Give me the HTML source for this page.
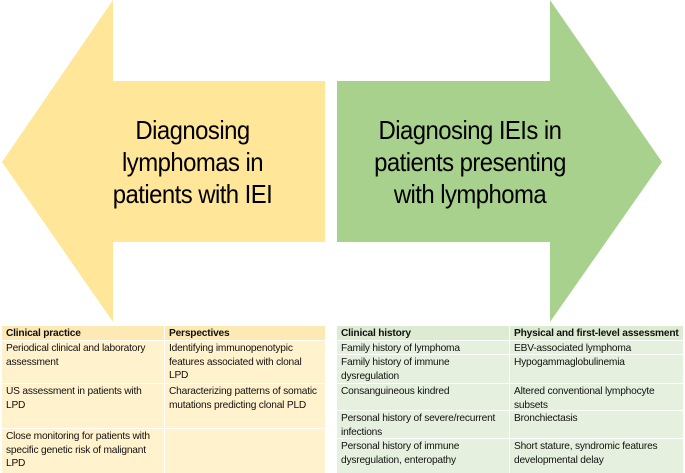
<!DOCTYPE html>
<html><head><meta charset="utf-8"><style>
body{margin:0;width:685px;height:473px;background:#fff;position:relative;overflow:hidden;font-family:"Liberation Sans",sans-serif}
.c{position:absolute;box-sizing:border-box;padding:1px 4px;font-size:10.2px;line-height:13.5px;color:#111;letter-spacing:-0.2px}
.hy{background:#fde9b3;font-weight:bold}
.y{background:#fff2cc}
.hg{background:#dcebd1;font-weight:bold}
.g{background:#e6f0de}
.t{position:absolute;font-size:26px;line-height:32px;text-align:center;color:#000;letter-spacing:-0.6px;transform:scaleX(0.92)}
</style></head><body>
<svg width="685" height="473" style="position:absolute;left:0;top:0">
<polygon points="2,162 113,0 113,81 325,81 325,242 113,242 113,322" fill="#ffe699"/>
<polygon points="337,81 550,81 550,0 662,162 550,322 550,242 337,242" fill="#a9d18e"/>
</svg>
<div class="t" style="left:70px;width:245px;top:114px">Diagnosing<br>lymphomas in<br>patients with IEI</div>
<div class="t" style="left:340px;width:260px;top:114px">Diagnosing IEIs in<br>patients presenting<br>with lymphoma</div>

<div class="c hy" style="left:2px;top:326px;width:162px;height:14px">Clinical practice</div>
<div class="c hy" style="left:165px;top:326px;width:160px;height:14px">Perspectives</div>
<div class="c y" style="left:2px;top:341px;width:162px;height:42px">Periodical clinical and laboratory assessment</div>
<div class="c y" style="left:165px;top:341px;width:160px;height:42px">Identifying immunopenotypic features associated with clonal LPD</div>
<div class="c y" style="left:2px;top:384px;width:162px;height:44px">US assessment in patients with LPD</div>
<div class="c y" style="left:165px;top:384px;width:160px;height:44px">Characterizing patterns of somatic mutations predicting clonal PLD</div>
<div class="c y" style="left:2px;top:429px;width:162px;height:44px">Close monitoring for patients with specific genetic risk of malignant LPD</div>
<div class="c y" style="left:165px;top:429px;width:160px;height:44px"></div>

<div class="c hg" style="left:337px;top:326px;width:172px;height:14px">Clinical history</div>
<div class="c hg" style="left:510px;top:326px;width:173px;height:14px">Physical and first-level assessment</div>
<div class="c g" style="left:337px;top:341px;width:172px;height:13px">Family history of lymphoma</div>
<div class="c g" style="left:510px;top:341px;width:173px;height:13px">EBV-associated lymphoma</div>
<div class="c g" style="left:337px;top:355px;width:172px;height:28px">Family history of immune dysregulation</div>
<div class="c g" style="left:510px;top:355px;width:173px;height:28px">Hypogammaglobulinemia</div>
<div class="c g" style="left:337px;top:384px;width:172px;height:26px">Consanguineous kindred</div>
<div class="c g" style="left:510px;top:384px;width:173px;height:26px">Altered conventional lymphocyte subsets</div>
<div class="c g" style="left:337px;top:411px;width:172px;height:27px">Personal history of severe/recurrent infections</div>
<div class="c g" style="left:510px;top:411px;width:173px;height:27px">Bronchiectasis</div>
<div class="c g" style="left:337px;top:439px;width:172px;height:34px">Personal history of immune dysregulation, enteropathy</div>
<div class="c g" style="left:510px;top:439px;width:173px;height:34px">Short stature, syndromic features developmental delay</div>
</body></html>
